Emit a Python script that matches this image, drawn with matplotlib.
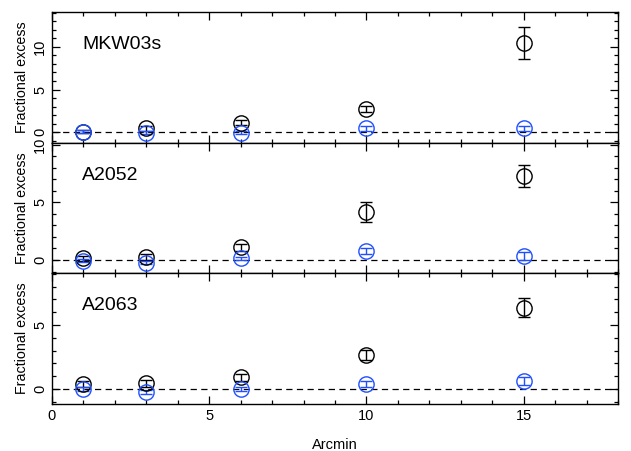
import matplotlib
matplotlib.use('Agg')
import matplotlib.pyplot as plt
from matplotlib.ticker import MultipleLocator

plt.rcParams['font.family'] = ['Liberation Sans', 'DejaVu Sans']

arcmin = [1, 3, 6, 10, 15]

names = ['MKW03s', 'A2052', 'A2063']

mkw_black = [0.07, 0.47, 1.12, 2.7, 10.4]
mkw_black_err = [0.2, 0.3, 0.3, 0.35, 1.87]
mkw_blue = [0.07, -0.05, -0.05, 0.45, 0.45]
mkw_blue_err = [0.15, 0.2, 0.15, 0.3, 0.3]

a2052_black = [0.15, 0.23, 1.1, 4.15, 7.3]
a2052_black_err = [0.2, 0.25, 0.3, 0.85, 0.94]
a2052_blue = [-0.05, -0.23, 0.15, 0.78, 0.37]
a2052_blue_err = [0.15, 0.15, 0.15, 0.3, 0.35]

a2063_black = [0.37, 0.44, 0.91, 2.66, 6.35]
a2063_black_err = [0.25, 0.25, 0.25, 0.4, 0.73]
a2063_blue = [-0.03, -0.23, 0.0, 0.39, 0.65]
a2063_blue_err = [0.15, 0.15, 0.15, 0.2, 0.3]

ylims = [(-1.19, 14.13), (-1.13, 10.19), (-1.17, 9.06)]

black_sets = [(mkw_black, mkw_black_err), (a2052_black, a2052_black_err), (a2063_black, a2063_black_err)]
blue_sets = [(mkw_blue, mkw_blue_err), (a2052_blue, a2052_blue_err), (a2063_blue, a2063_blue_err)]

blue = '#1f4fff'

fig = plt.figure(figsize=(6.31, 4.51), dpi=100)
left, right = 52 / 631, 618 / 631
edges = [11.5, 142.5, 273, 404]

for i in range(3):
    top = 1 - edges[i] / 451
    bot = 1 - edges[i + 1] / 451
    ax = fig.add_axes([left, bot, right - left, top - bot])

    ax.axhline(0, color='black', ls=(0, (5, 3.5)), lw=0.9, zorder=1)

    for (vals, errs), col in [(black_sets[i], 'black'), (blue_sets[i], blue)]:
        ax.errorbar(arcmin, vals, yerr=errs, fmt='o', mfc='none', mec=col,
                    ms=11, mew=1.0, ecolor=col, elinewidth=1.0,
                    capsize=4.3, capthick=1.0, zorder=3)

    ax.set_xlim(0, 18)
    ax.set_ylim(*ylims[i])
    ax.xaxis.set_major_locator(MultipleLocator(5))
    ax.xaxis.set_minor_locator(MultipleLocator(1))
    ax.yaxis.set_major_locator(MultipleLocator(5))
    ax.yaxis.set_minor_locator(MultipleLocator(1))
    ax.tick_params(which='both', direction='in', top=True, right=True, width=0.9)
    ax.tick_params(which='major', length=5.5, labelsize=10.5)
    ax.tick_params(which='minor', length=2.8)
    for lab in ax.get_yticklabels():
        lab.set_rotation(90)
        lab.set_va('center')
    for s in ax.spines.values():
        s.set_linewidth(1.0)

    ax.set_ylabel('Fractional excess', fontsize=10.3, labelpad=3)
    ax.text(0.053, 0.75, names[i], transform=ax.transAxes, fontsize=14,
            va='center', ha='left')

    if i < 2:
        ax.tick_params(labelbottom=False)
    else:
        ax.set_xlabel('Arcmin', fontsize=10.5, labelpad=11)

fig.savefig('out.png', dpi=100)
